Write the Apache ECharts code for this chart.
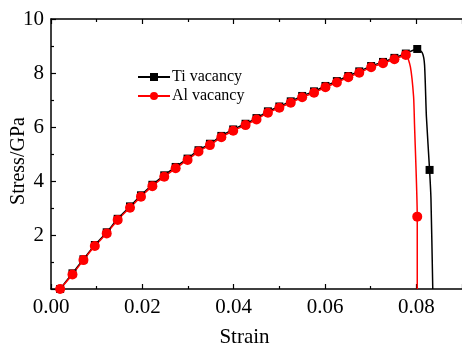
<!DOCTYPE html>
<html>
<head>
<meta charset="utf-8">
<script src="https://cdn.jsdelivr.net/npm/echarts@6/dist/echarts.min.js"></script>
<style>
  html, body { margin: 0; padding: 0; background: #fff; }
  #main { width: 462px; height: 349px; }
</style>
</head>
<body>
<div id="main"></div>
<script>
// 应变（每个标记点）
var strainPts = [0.002, 0.0047, 0.0071, 0.0096, 0.0122, 0.0146, 0.0173, 0.0197, 0.0222, 0.0248,
  0.0273, 0.0299, 0.0323, 0.0348, 0.0373, 0.0399, 0.0426, 0.045, 0.0475, 0.05,
  0.0525, 0.055, 0.0576, 0.0601, 0.0626, 0.0651, 0.0675, 0.0701, 0.0727, 0.0752, 0.0777];
// Al vacancy 应力
var alStress = [0, 0.54, 1.07, 1.59, 2.06, 2.56, 3.01, 3.42, 3.81, 4.16,
  4.47, 4.78, 5.09, 5.33, 5.62, 5.86, 6.07, 6.28, 6.53, 6.71,
  6.9, 7.1, 7.27, 7.47, 7.65, 7.84, 8.01, 8.21, 8.36, 8.51, 8.67];
// Ti vacancy 应力
var tiStress = [0, 0.58, 1.1, 1.63, 2.1, 2.6, 3.06, 3.47, 3.86, 4.21,
  4.52, 4.83, 5.14, 5.38, 5.67, 5.91, 6.12, 6.33, 6.58, 6.76,
  6.95, 7.15, 7.32, 7.52, 7.7, 7.89, 8.06, 8.26, 8.41, 8.56, 8.72];
// 断裂段
var tiTailX = [0.0802, 0.0813, 0.0818, 0.0822, 0.0829, 0.0832, 0.0836];
var tiTailY = [8.89, 8.75, 8.3, 6.4, 4.41, 3.36, 0];
var tiTailMark = [true, false, false, false, true, false, false];
var alTailX = [0.0787, 0.0794, 0.0796, 0.0802, 0.0802];
var alTailY = [8.23, 7.12, 6.1, 2.68, 0];
var alTailMark = [false, false, false, true, false];

var xTicks = [0, 0.02, 0.04, 0.06, 0.08];
var yTicks = [2, 4, 6, 8, 10];

function build(ys, tx, ty, tm) {
    var d = [];
    for (var i = 0; i < strainPts.length; i++) d.push([strainPts[i], ys[i]]);
    for (var j = 0; j < tx.length; j++) {
        d.push(tm[j] ? [tx[j], ty[j]] : { value: [tx[j], ty[j]], symbol: 'none' });
    }
    return d;
}

var font = 'Liberation Serif';
var myChart = echarts.init(document.getElementById('main'));
var axisBase = {
    type: 'value',
    min: 0,
    axisLine: { show: true, lineStyle: { color: '#000', width: 1.5 } },
    axisTick: { show: true, inside: true, length: 5, lineStyle: { color: '#000', width: 1.2 } },
    minorTick: { show: true, splitNumber: 2, length: 3, lineStyle: { color: '#000', width: 1.2 } },
    splitLine: { show: false }
};
var option = {
    animation: false,
    grid: { left: 51, top: 19, right: 0, bottom: 60, containLabel: false, outerBoundsMode: 'none' },
    legend: {
        orient: 'vertical',
        left: 132,
        top: 64,
        itemWidth: 32,
        itemHeight: 10,
        itemGap: 3,
        textStyle: { fontFamily: font, fontSize: 16, color: '#000', padding: [0, 0, 0, -3] },
        data: ['Ti vacancy', 'Al vacancy']
    },
    xAxis: [
        Object.assign({}, axisBase, {
            max: 0.09, interval: 0.02,
            name: 'Strain', nameLocation: 'middle', nameGap: 38, nameMoveOverlap: false,
            nameTextStyle: { fontFamily: font, fontSize: 21, color: '#000', padding: [0, 24, 0, 0] },
            axisLabel: {
                fontFamily: font, fontSize: 21, color: '#000', margin: 8,
                formatter: function (v) { return xTicks.some(function (t) { return Math.abs(t - v) < 1e-9; }) ? v.toFixed(2) : ''; }
            }
        }),
        Object.assign({}, axisBase, {
            position: 'top', max: 0.09, interval: 0.02,
            axisLabel: { show: false }
        })
    ],
    yAxis: Object.assign({}, axisBase, {
        max: 10, interval: 2,
        name: 'Stress/GPa', nameLocation: 'middle', nameGap: 22, nameMoveOverlap: false,
        nameTextStyle: { fontFamily: font, fontSize: 20, color: '#000', padding: [0, 14, 0, 0] },
        axisLabel: {
            fontFamily: font, fontSize: 21, color: '#000', margin: 7,
            formatter: function (v) { return yTicks.indexOf(v) >= 0 ? String(v) : ''; }
        }
    }),
    series: [{
        name: 'Ti vacancy',
        type: 'line',
        data: build(tiStress, tiTailX, tiTailY, tiTailMark),
        symbol: 'rect',
        symbolSize: 8,
        showAllSymbol: true,
        smooth: 0.2,
        color: '#000',
        lineStyle: { color: '#000', width: 1.5 },
        itemStyle: { color: '#000' }
    }, {
        name: 'Al vacancy',
        type: 'line',
        data: build(alStress, alTailX, alTailY, alTailMark),
        symbol: 'circle',
        symbolSize: 10,
        showAllSymbol: true,
        smooth: 0.2,
        color: '#ff0000',
        lineStyle: { color: '#ff0000', width: 1.5 },
        itemStyle: { color: '#ff0000' }
    }]
};
myChart.setOption(option);
</script>
</body>
</html>
